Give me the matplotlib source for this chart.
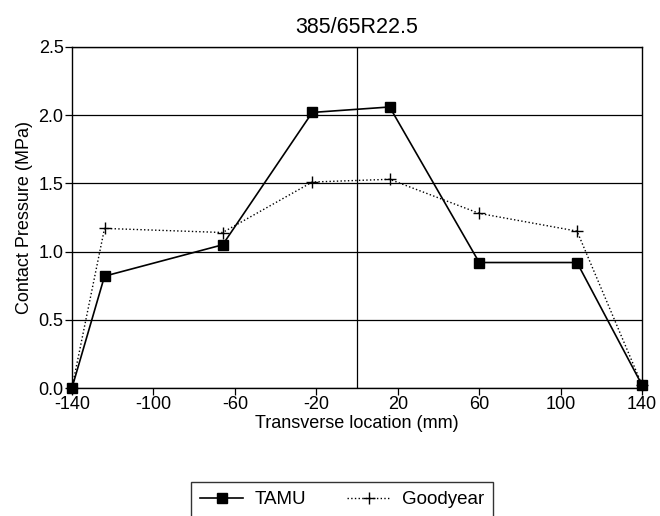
import numpy as np
import matplotlib.pyplot as plt

plt.rcParams['font.family'] = ['Liberation Sans', 'DejaVu Sans']
plt.rcParams['axes.unicode_minus'] = False

# transverse positions across the tread (mm)
location = [-140, -124, -66, -22, 16, 60, 108, 140]
tamu = [0.0, 0.82, 1.05, 2.02, 2.06, 0.92, 0.92, 0.02]
goodyear = [0.0, 1.17, 1.14, 1.51, 1.53, 1.28, 1.15, 0.02]

xticks = [-140, -100, -60, -20, 20, 60, 100, 140]
yticks = [0.0, 0.5, 1.0, 1.5, 2.0, 2.5]

fig = plt.figure(figsize=(6.6, 5.16), dpi=100)
ax = fig.add_axes([0.109, 0.248, 0.864, 0.661])

for y in yticks:
    ax.axhline(y, color='k', lw=0.9, zorder=1)
ax.axvline(0, color='k', lw=0.9, zorder=1)

l1, = ax.plot(location, tamu, '-', color='k', lw=1.2, marker='s',
              markersize=7, zorder=3, clip_on=False)
l2, = ax.plot(location, goodyear, ':', color='k', lw=1.0, marker='+',
              markersize=8, markeredgewidth=1.0, zorder=3, clip_on=False)

ax.set_xlim(-140, 140)
ax.set_ylim(0, 2.5)
ax.set_xticks(xticks)
ax.set_yticks(yticks)
ax.set_yticklabels(['%.1f' % v for v in yticks])
ax.tick_params(axis='both', direction='out', length=5, width=0.9,
               labelsize=13, pad=1)
for s in ax.spines.values():
    s.set_linewidth(1.0)

ax.set_title('385/65R22.5', fontsize=15.5, pad=10)
ax.set_ylabel('Contact Pressure (MPa)', fontsize=13, labelpad=4)
ax.set_xlabel('Transverse location (mm)', fontsize=13, labelpad=1)

leg = fig.legend([l1, l2], ['TAMU', 'Goodyear'], ncol=2,
                 loc='upper center', bbox_to_anchor=(0.518, 0.066),
                 fontsize=13.5, frameon=True, fancybox=False,
                 edgecolor='k', borderpad=0.5, columnspacing=2.2,
                 handlelength=2.3, handletextpad=0.6, borderaxespad=0)
leg.get_frame().set_linewidth(1.0)

fig.savefig('out.png', dpi=100)
